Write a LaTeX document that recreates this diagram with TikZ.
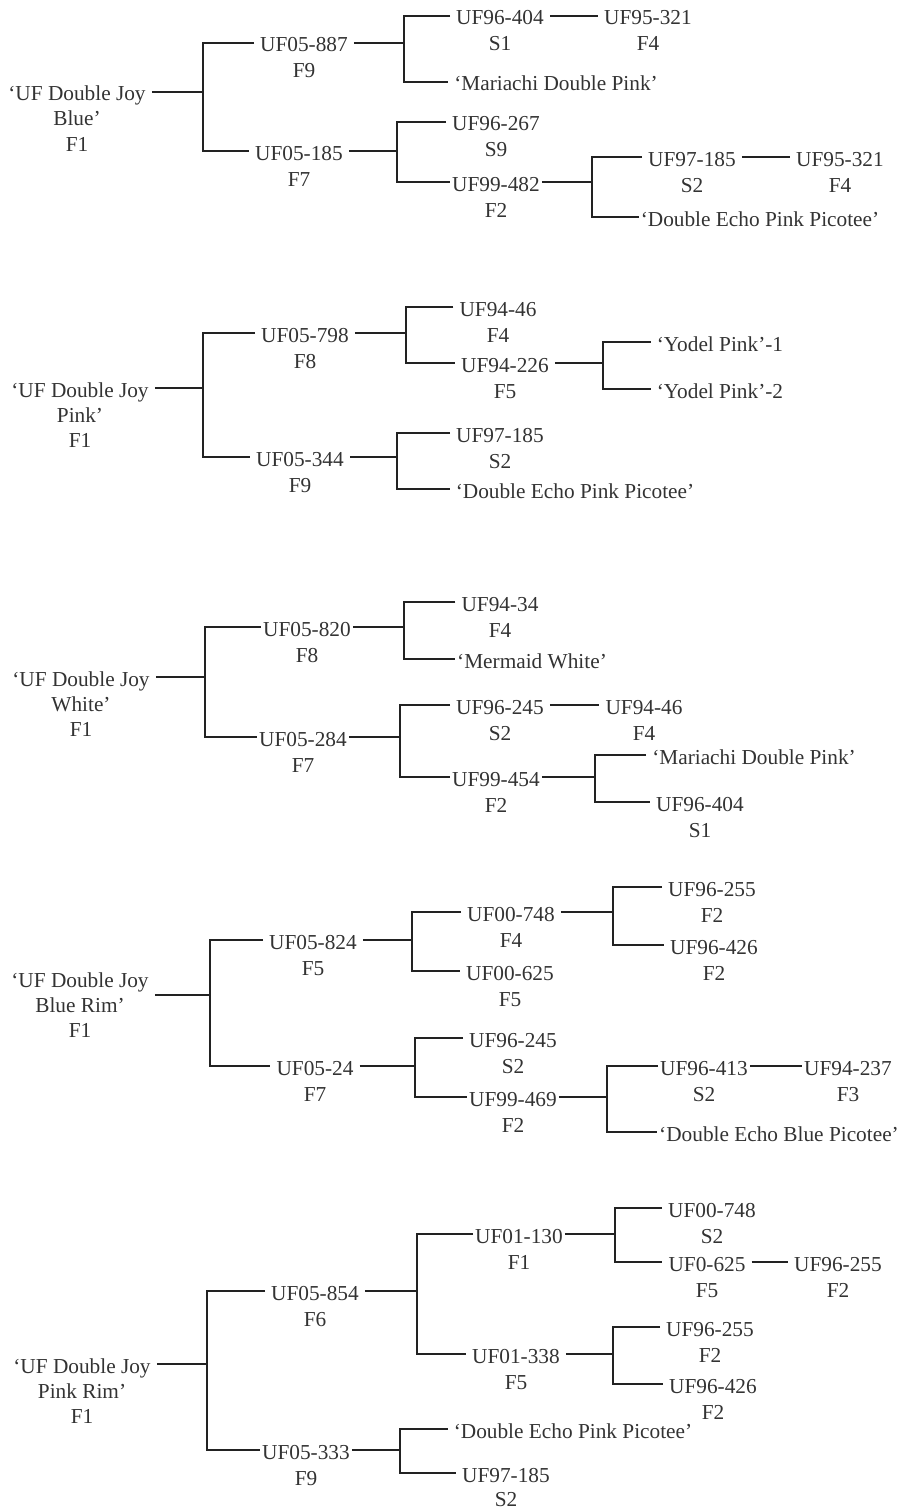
\documentclass[tikz,border=0pt]{standalone}
\usepackage{fontspec}
\setmainfont{Liberation Serif}
\usepackage{tikz}
\definecolor{linegray}{RGB}{34,34,34}
\definecolor{textgray}{RGB}{51,51,51}
\newcommand{\pedfont}{\fontsize{21.3}{26}\selectfont}

\begin{document}
\begin{tikzpicture}[x=1pt,y=-1pt,
  cv/.style={font=\pedfont,text=textgray,inner xsep=6pt,inner ysep=0pt,
    text height=18pt,text depth=0pt},
  tight/.style={inner xsep=2pt},
  gen/.style={font=\pedfont,text=textgray,inner sep=0pt,anchor=base},
  link/.style={draw=linegray,line width=1.7pt},
]
  \useasboundingbox (0,0) rectangle (899,1509);

  \node[cv] (a0) at (77,92) {`UF Double Joy};
  \node[gen] (a0b) at ([yshift=-25pt]a0.base) {Blue'};
  \node[gen] (a0g) at ([yshift=-50pt]a0.base) {F1};
  \node[cv] (a1) at (304,43) {UF05-887};
  \node[gen] (a1g) at ([yshift=-26pt]a1.base) {F9};
  \node[cv] (a2) at (299,151) {UF05-185};
  \node[gen] (a2g) at ([yshift=-26pt]a2.base) {F7};
  \node[cv] (a11) at (500,16) {UF96-404};
  \node[gen] (a11g) at ([yshift=-26pt]a11.base) {S1};
  \node[cv] (a111) at (648,16) {UF95-321};
  \node[gen] (a111g) at ([yshift=-26pt]a111.base) {F4};
  \node[cv] (a12) at (556,82) {`Mariachi Double Pink'};
  \node[cv] (a21) at (496,122) {UF96-267};
  \node[gen] (a21g) at ([yshift=-26pt]a21.base) {S9};
  \node[cv,tight] (a22) at (496,182) {UF99-482};
  \node[gen] (a22g) at ([yshift=-26pt]a22.base) {F2};
  \node[cv] (a221) at (692,157) {UF97-185};
  \node[gen] (a221g) at ([yshift=-26pt]a221.base) {S2};
  \node[cv] (a2211) at (840,157) {UF95-321};
  \node[gen] (a2211g) at ([yshift=-26pt]a2211.base) {F4};
  \node[cv,tight] (a222) at (760,217) {`Double Echo Pink Picotee'};
  \coordinate (ja) at (203,92);
  \coordinate (ja1) at (404,43);
  \coordinate (ja2) at (397,151);
  \coordinate (ja22) at (592,182);
  \draw[link] (a0.east) -- (ja);
  \draw[link] (a1.west) -| (ja) |- (a2.west);
  \draw[link] (a1.east) -- (ja1);
  \draw[link] (a11.west) -| (ja1) |- (a12.west);
  \draw[link] (a11.east) -- (a111.west);
  \draw[link] (a2.east) -- (ja2);
  \draw[link] (a21.west) -| (ja2) |- (a22.west);
  \draw[link] (a22.east) -- (ja22);
  \draw[link] (a221.west) -| (ja22) |- (a222.west);
  \draw[link] (a221.east) -- (a2211.west);

  \node[cv] (b0) at (80,388) {`UF Double Joy};
  \node[gen] (b0b) at ([yshift=-25pt]b0.base) {Pink'};
  \node[gen] (b0g) at ([yshift=-50pt]b0.base) {F1};
  \node[cv] (b1) at (305,333) {UF05-798};
  \node[gen] (b1g) at ([yshift=-26pt]b1.base) {F8};
  \node[cv] (b2) at (300,457) {UF05-344};
  \node[gen] (b2g) at ([yshift=-26pt]b2.base) {F9};
  \node[cv] (b11) at (498,307) {UF94-46};
  \node[gen] (b11g) at ([yshift=-26pt]b11.base) {F4};
  \node[cv] (b12) at (505,363) {UF94-226};
  \node[gen] (b12g) at ([yshift=-26pt]b12.base) {F5};
  \node[cv] (b121) at (720,342) {`Yodel Pink'-1};
  \node[cv] (b122) at (720,389) {`Yodel Pink'-2};
  \node[cv] (b21) at (500,433) {UF97-185};
  \node[gen] (b21g) at ([yshift=-26pt]b21.base) {S2};
  \node[cv] (b22) at (575,489) {`Double Echo Pink Picotee'};
  \coordinate (jb) at (203,388);
  \coordinate (jb1) at (406,333);
  \coordinate (jb12) at (603,363);
  \coordinate (jb2) at (397,457);
  \draw[link] (b0.east) -- (jb);
  \draw[link] (b1.west) -| (jb) |- (b2.west);
  \draw[link] (b1.east) -- (jb1);
  \draw[link] (b11.west) -| (jb1) |- (b12.west);
  \draw[link] (b12.east) -- (jb12);
  \draw[link] (b121.west) -| (jb12) |- (b122.west);
  \draw[link] (b2.east) -- (jb2);
  \draw[link] (b21.west) -| (jb2) |- (b22.west);

  \node[cv] (c0) at (81,677) {`UF Double Joy};
  \node[gen] (c0b) at ([yshift=-25pt]c0.base) {White'};
  \node[gen] (c0g) at ([yshift=-50pt]c0.base) {F1};
  \node[cv,tight] (c1) at (307,627) {UF05-820};
  \node[gen] (c1g) at ([yshift=-26pt]c1.base) {F8};
  \node[cv,tight] (c2) at (303,737) {UF05-284};
  \node[gen] (c2g) at ([yshift=-26pt]c2.base) {F7};
  \node[cv] (c11) at (500,602) {UF94-34};
  \node[gen] (c11g) at ([yshift=-26pt]c11.base) {F4};
  \node[cv,tight] (c12) at (532,659) {`Mermaid White'};
  \node[cv] (c21) at (500,705) {UF96-245};
  \node[gen] (c21g) at ([yshift=-26pt]c21.base) {S2};
  \node[cv] (c211) at (644,705) {UF94-46};
  \node[gen] (c211g) at ([yshift=-26pt]c211.base) {F4};
  \node[cv,tight] (c22) at (496,777) {UF99-454};
  \node[gen] (c22g) at ([yshift=-26pt]c22.base) {F2};
  \node[cv] (c221) at (754,755) {`Mariachi Double Pink'};
  \node[cv] (c222) at (700,802) {UF96-404};
  \node[gen] (c222g) at ([yshift=-26pt]c222.base) {S1};
  \coordinate (jc) at (205,677);
  \coordinate (jc1) at (404,627);
  \coordinate (jc2) at (400,737);
  \coordinate (jc22) at (595,777);
  \draw[link] (c0.east) -- (jc);
  \draw[link] (c1.west) -| (jc) |- (c2.west);
  \draw[link] (c1.east) -- (jc1);
  \draw[link] (c11.west) -| (jc1) |- (c12.west);
  \draw[link] (c2.east) -- (jc2);
  \draw[link] (c21.west) -| (jc2) |- (c22.west);
  \draw[link] (c21.east) -- (c211.west);
  \draw[link] (c22.east) -- (jc22);
  \draw[link] (c221.west) -| (jc22) |- (c222.west);

  \node[cv] (d0) at (80,978) {`UF Double Joy};
  \node[gen] (d0b) at ([yshift=-25pt]d0.base) {Blue Rim'};
  \node[gen] (d0g) at ([yshift=-50pt]d0.base) {F1};
  \node[cv] (d1) at (313,940) {UF05-824};
  \node[gen] (d1g) at ([yshift=-26pt]d1.base) {F5};
  \node[cv] (d2) at (315,1066) {UF05-24};
  \node[gen] (d2g) at ([yshift=-26pt]d2.base) {F7};
  \node[cv] (d11) at (511,912) {UF00-748};
  \node[gen] (d11g) at ([yshift=-26pt]d11.base) {F4};
  \node[cv] (d12) at (510,971) {UF00-625};
  \node[gen] (d12g) at ([yshift=-26pt]d12.base) {F5};
  \node[cv] (d111) at (712,887) {UF96-255};
  \node[gen] (d111g) at ([yshift=-26pt]d111.base) {F2};
  \node[cv] (d112) at (714,945) {UF96-426};
  \node[gen] (d112g) at ([yshift=-26pt]d112.base) {F2};
  \node[cv] (d21) at (513,1038) {UF96-245};
  \node[gen] (d21g) at ([yshift=-26pt]d21.base) {S2};
  \node[cv,tight] (d22) at (513,1097) {UF99-469};
  \node[gen] (d22g) at ([yshift=-26pt]d22.base) {F2};
  \node[cv,tight] (d221) at (704,1066) {UF96-413};
  \node[gen] (d221g) at ([yshift=-26pt]d221.base) {S2};
  \node[cv,tight] (d2211) at (848,1066) {UF94-237};
  \node[gen] (d2211g) at ([yshift=-26pt]d2211.base) {F3};
  \node[cv,tight] (d222) at (779,1132) {`Double Echo Blue Picotee'};
  \coordinate (jd) at (210,995);
  \coordinate (jd1) at (412,940);
  \coordinate (jd11) at (613,912);
  \coordinate (jd2) at (415,1066);
  \coordinate (jd22) at (607,1097);
  \draw[link] (d0.east |- jd) -- (jd);
  \draw[link] (d1.west) -| (jd) |- (d2.west);
  \draw[link] (d1.east) -- (jd1);
  \draw[link] (d11.west) -| (jd1) |- (d12.west);
  \draw[link] (d11.east) -- (jd11);
  \draw[link] (d111.west) -| (jd11) |- (d112.west);
  \draw[link] (d2.east) -- (jd2);
  \draw[link] (d21.west) -| (jd2) |- (d22.west);
  \draw[link] (d22.east) -- (jd22);
  \draw[link] (d221.west) -| (jd22) |- (d222.west);
  \draw[link] (d221.east) -- (d2211.west);

  \node[cv] (e0) at (82,1364) {`UF Double Joy};
  \node[gen] (e0b) at ([yshift=-25pt]e0.base) {Pink Rim'};
  \node[gen] (e0g) at ([yshift=-50pt]e0.base) {F1};
  \node[cv] (e1) at (315,1291) {UF05-854};
  \node[gen] (e1g) at ([yshift=-26pt]e1.base) {F6};
  \node[cv,tight] (e2) at (306,1450) {UF05-333};
  \node[gen] (e2g) at ([yshift=-26pt]e2.base) {F9};
  \node[cv,tight] (e11) at (519,1234) {UF01-130};
  \node[gen] (e11g) at ([yshift=-26pt]e11.base) {F1};
  \node[cv] (e12) at (516,1354) {UF01-338};
  \node[gen] (e12g) at ([yshift=-26pt]e12.base) {F5};
  \node[cv] (e111) at (712,1208) {UF00-748};
  \node[gen] (e111g) at ([yshift=-26pt]e111.base) {S2};
  \node[cv] (e112) at (707,1262) {UF0-625};
  \node[gen] (e112g) at ([yshift=-26pt]e112.base) {F5};
  \node[cv] (e1121) at (838,1262) {UF96-255};
  \node[gen] (e1121g) at ([yshift=-26pt]e1121.base) {F2};
  \node[cv] (e121) at (710,1327) {UF96-255};
  \node[gen] (e121g) at ([yshift=-26pt]e121.base) {F2};
  \node[cv] (e122) at (713,1384) {UF96-426};
  \node[gen] (e122g) at ([yshift=-26pt]e122.base) {F2};
  \node[cv] (e21) at (573,1429) {`Double Echo Pink Picotee'};
  \node[cv] (e22) at (506,1473) {UF97-185};
  \node[gen] (e22g) at ([yshift=-24pt]e22.base) {S2};
  \coordinate (je) at (207,1364);
  \coordinate (je1) at (417,1291);
  \coordinate (je11) at (615,1234);
  \coordinate (je12) at (613,1354);
  \coordinate (je2) at (400,1450);
  \draw[link] (e0.east) -- (je);
  \draw[link] (e1.west) -| (je) |- (e2.west);
  \draw[link] (e1.east) -- (je1);
  \draw[link] (e11.west) -| (je1) |- (e12.west);
  \draw[link] (e11.east) -- (je11);
  \draw[link] (e111.west) -| (je11) |- (e112.west);
  \draw[link] (e112.east) -- (e1121.west);
  \draw[link] (e12.east) -- (je12);
  \draw[link] (e121.west) -| (je12) |- (e122.west);
  \draw[link] (e2.east) -- (je2);
  \draw[link] (e21.west) -| (je2) |- (e22.west);
\end{tikzpicture}
\end{document}
